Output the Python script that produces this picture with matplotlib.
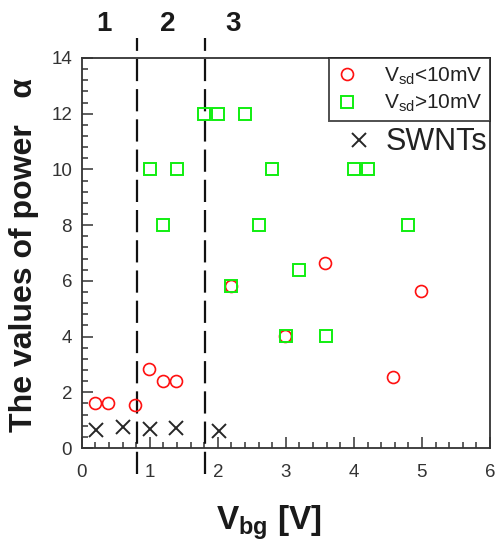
import matplotlib
matplotlib.use("Agg")
import matplotlib.pyplot as plt
from matplotlib.ticker import MultipleLocator

plt.rcParams['font.family'] = ['Liberation Sans', 'DejaVu Sans']
plt.rcParams['mathtext.fontset'] = 'custom'
plt.rcParams['mathtext.rm'] = 'Liberation Sans'
plt.rcParams['mathtext.it'] = 'Liberation Sans'
plt.rcParams['mathtext.bf'] = 'Liberation Sans:bold'

# Data
low_x = [0.19, 0.38, 0.78, 0.99, 1.19, 1.38, 2.19, 2.99, 3.58, 4.58, 4.98]
low_y = [1.63, 1.63, 1.53, 2.82, 2.42, 2.42, 5.82, 4.03, 6.63, 2.54, 5.63]
high_x = [1.0, 1.4, 1.2, 1.79, 2.0, 2.4, 2.2, 2.8, 2.6, 3.0, 3.2, 3.59, 4.0, 4.2, 4.8]
high_y = [10.0, 10.0, 8.0, 12.0, 12.0, 12.0, 5.82, 10.0, 8.0, 4.02, 6.4, 4.02, 10.0, 10.0, 8.0]
swnt_x = [0.21, 0.61, 1.0, 1.38, 2.01]
swnt_y = [0.65, 0.74, 0.68, 0.71, 0.62]
region_bounds = [0.81, 1.81]
region_labels = ['1', '2', '3']
region_label_x = [0.32, 1.26, 2.22]

fig = plt.figure(figsize=(5.02, 5.42), dpi=100)
ax = fig.add_axes([0.163, 0.1734, 0.813, 0.7196])

red = '#ff1010'
green = '#10ee10'
dark = '#262626'

ax.plot(low_x, low_y, linestyle='none', marker='o', markersize=8.6,
        markerfacecolor='none', markeredgecolor=red, markeredgewidth=1.2,
        label=r'V$_{\mathregular{sd}}$<10mV', zorder=3)
ax.plot(high_x, high_y, linestyle='none', marker='s', markersize=8.4,
        markerfacecolor='none', markeredgecolor=green, markeredgewidth=1.4,
        label=r'V$_{\mathregular{sd}}$>10mV', zorder=4)
sw, = ax.plot(swnt_x, swnt_y, linestyle='none', marker='x', markersize=10,
              markeredgecolor=dark, markeredgewidth=1.4, zorder=3)

for xb in region_bounds:
    ax.plot([xb, xb], [-0.067, 1.051], transform=ax.get_xaxis_transform(),
            color='#111111', linewidth=1.6, dashes=(10, 3.6), clip_on=False, zorder=2)

for lx, lab in zip(region_label_x, region_labels):
    ax.text(lx, 1.088, lab, transform=ax.get_xaxis_transform(), ha='center', va='center',
            fontsize=20, fontweight='bold', color='#1a1a1a')

ax.set_xlim(0, 6)
ax.set_ylim(0, 14)
ax.xaxis.set_major_locator(MultipleLocator(1))
ax.xaxis.set_minor_locator(MultipleLocator(0.2))
ax.yaxis.set_major_locator(MultipleLocator(2))
ax.yaxis.set_minor_locator(MultipleLocator(0.4))
ax.tick_params(which='both', direction='in', top=False, right=False, colors='#333333', width=1.1)
ax.tick_params(which='major', length=8, labelsize=13.5, labelcolor='#333333')
ax.tick_params(axis='x', which='major', pad=11.5)
ax.tick_params(axis='y', which='major', pad=7)
ax.tick_params(which='minor', length=4)
for s in ax.spines.values():
    s.set_linewidth(1.3)
    s.set_color('#333333')

ax.set_xlabel(r'V$_{\mathbf{bg}}$ [V]', fontsize=24, fontweight='bold', color='#1a1a1a')
ax.xaxis.set_label_coords(0.458, -0.143)
ax.set_ylabel('The values of power   α', fontsize=23, fontweight='bold', color='#1a1a1a')
ax.yaxis.set_label_coords(-0.105, 0.495)

leg1 = ax.legend(loc='upper right', bbox_to_anchor=(1.0, 1.0), borderaxespad=0,
                 fontsize=15, frameon=True, fancybox=False, handletextpad=1.2,
                 borderpad=0.35, labelspacing=0.3, handlelength=1.1)
leg1.get_frame().set_edgecolor('#222222')
leg1.get_frame().set_linewidth(1.4)
for t in leg1.get_texts():
    t.set_color('#222222')
ax.add_artist(leg1)

leg2 = ax.legend([sw], ['SWNTs'], loc='upper right', bbox_to_anchor=(1.0, 0.83),
                 borderaxespad=0, fontsize=22, frameon=False, handletextpad=0.35,
                 handlelength=1.0, borderpad=0.1)
for t in leg2.get_texts():
    t.set_color('#222222')

fig.savefig('out.png', dpi=100)
